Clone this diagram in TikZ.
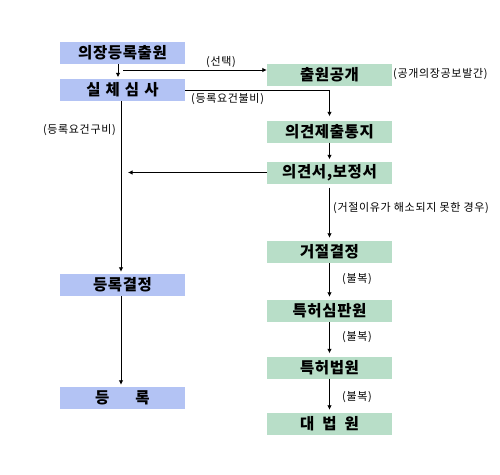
\documentclass[tikz,border=0pt]{standalone}
\usepackage{fontspec}
\setmainfont{Noto Sans CJK KR}
\newfontfamily\notefont{Noto Sans CJK KR}[LetterSpace=6]
\newfontfamily\boxfont{Noto Sans CJK KR}[LetterSpace=4]
\usetikzlibrary{arrows.meta,calc}
\definecolor{RegBlue}{HTML}{B3C3F4}
\definecolor{TrialGreen}{HTML}{B8DEC8}

\begin{document}
\begin{tikzpicture}[
    x=1pt, y=-1pt,
    >={Latex[length=4.5pt,width=4.5pt]},
    box/.style={minimum width=125pt,minimum height=22pt,inner sep=0pt,font=\boxfont\fontsize{15.5}{17}\selectfont\bfseries},
    leftbox/.style={box,fill=RegBlue},
    rightbox/.style={box,fill=TrialGreen},
    note/.style={font=\notefont\fontsize{11}{13}\selectfont,inner sep=0pt},
    flow/.style={->,line width=0.8pt}
  ]
  \useasboundingbox (0,0) rectangle (500,474);
  \node[leftbox] (apply) at (122.5,53) {의장등록출원};
  \node[leftbox] (exam) at (122.5,90) {실\hspace{5pt}체\hspace{5pt}심\hspace{5pt}사};
  \node[leftbox] (regdec) at (122.5,285) {등록결정};
  \node[leftbox] (reg) at (122.5,398) {등\hspace{26pt}록};
  \node[rightbox] (pub) at (329.5,75) {출원공개};
  \node[rightbox] (notice) at (329.5,131.5) {의견제출통지};
  \node[rightbox] (reply) at (329.5,172.5) {의견서,보정서};
  \node[rightbox] (reject) at (329.5,252) {거절결정};
  \node[rightbox] (trial) at (329.5,311) {특허심판원};
  \node[rightbox] (court) at (329.5,367.5) {특허법원};
  \node[rightbox] (supreme) at (329.5,424) {대\hspace{8pt}법\hspace{8pt}원};

  \coordinate (sel) at (123,70);
  \coordinate (back) at (128,172.5);

  \draw[flow,shorten >=1.5pt] ($(apply.south)+(-4.5,0)$) -- ($(exam.north)+(-4.5,0)$);
  \draw[flow] (sel) -- (sel -| pub.west);
  \draw[flow,shorten >=4pt] (exam.east) -| (notice.north);
  \draw[flow,shorten >=2pt] ($(exam.south)+(-1.5,0)$) -- ($(regdec.north)+(-1.5,0)$);
  \draw[flow,shorten >=2pt] ($(regdec.south)+(-1.5,0)$) -- ($(reg.north)+(-1.5,0)$);
  \draw[flow,shorten >=2pt] (notice.south) -- (reply.north);
  \draw[flow] (reply.west) -- (back);
  \draw[flow,shorten <=4pt,shorten >=3pt] (reply.south) -- (reject.north);
  \draw[flow,shorten >=3pt] (reject.south) -- (trial.north);
  \draw[flow,shorten >=3pt] (trial.south) -- (court.north);
  \draw[flow,shorten >=3pt] (court.south) -- (supreme.north);

  \node[note] (selnote) at (221,62) {(선택)};
  \node[note,anchor=west] (pubnote) at (393,74) {(공개의장공보발간)};
  \node[note,anchor=west] (failnote) at (191,99) {(등록요건불비)};
  \node[note,anchor=east] (oknote) at (116,130) {(등록요건구비)};
  \node[note,anchor=west] (unresolved) at (333,208) {(거절이유가 해소되지 못한 경우)};
  \node[note,anchor=west] (appeal1) at (342,279) {(불복)};
  \node[note,anchor=west] (appeal2) at (342,337) {(불복)};
  \node[note,anchor=west] (appeal3) at (342,397) {(불복)};
\end{tikzpicture}
\end{document}
